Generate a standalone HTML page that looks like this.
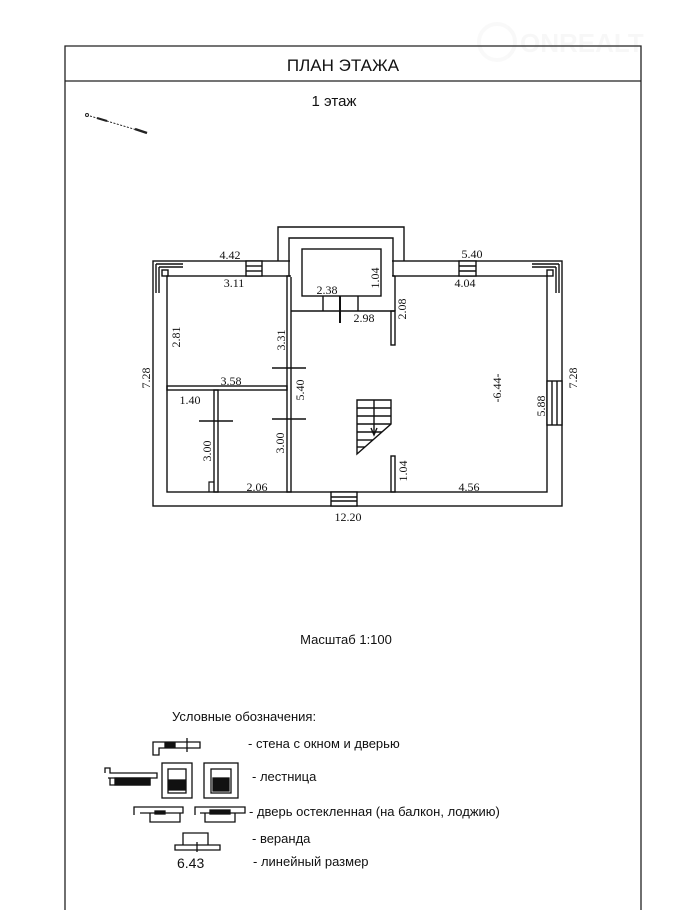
<!DOCTYPE html>
<html><head><meta charset="utf-8"><style>
html,body{margin:0;padding:0;background:#fff;}
svg{display:block;}
.s{font-family:"Liberation Serif",serif;font-size:12px;fill:#111;}
.a{font-family:"Liberation Sans",sans-serif;fill:#111;}
</style></head><body>
<svg width="693" height="910" viewBox="0 0 693 910" xmlns="http://www.w3.org/2000/svg">
<!-- watermark -->
<g opacity="0.06" fill="#888" font-family="Liberation Sans,sans-serif" font-weight="bold">
<circle cx="497" cy="42" r="18" fill="none" stroke="#999" stroke-width="4"/>
<text x="520" y="52" font-size="26">ONREALT</text>
</g>
<!-- frame -->
<g fill="none" stroke="#222" stroke-width="1.3">
<path d="M65 910 V46 H641 V910"/>
<line x1="65" y1="81" x2="641" y2="81"/>
</g>
<text class="a" x="343" y="71" font-size="17" text-anchor="middle">ПЛАН ЭТАЖА</text>
<text class="a" x="334" y="106" font-size="15" text-anchor="middle">1 этаж</text>
<!-- compass -->
<g stroke="#222">
<line x1="90" y1="116" x2="147" y2="133" stroke-dasharray="2,1.5" stroke-width="1"/>
<line x1="97" y1="118" x2="107" y2="121" stroke-width="2"/>
<line x1="135" y1="129" x2="147" y2="133" stroke-width="2.5"/>
<circle cx="87" cy="115" r="1.5" fill="none"/>
</g>
<!-- plan -->
<g fill="none" stroke="#111" stroke-width="1.4">
<rect x="153" y="261" width="409" height="245"/>
<rect x="167" y="276" width="380" height="216"/>
<path d="M156 264 H183 M156 264 V293 M159 267 H183 M159 267 V293"/>
<path d="M559 264 H532 M559 264 V293 M556 267 H532 M556 267 V293"/>
<rect x="162" y="270" width="6" height="6"/>
<rect x="547" y="270" width="6" height="6"/>
<path d="M278 261 V227 H404 V261"/>
<path d="M289 261 V238 H393 V261"/>
<rect x="246" y="261" width="16" height="15" fill="#fff"/>
<line x1="246" y1="266" x2="262" y2="266"/><line x1="246" y1="271" x2="262" y2="271"/>
<rect x="459" y="261" width="17" height="15" fill="#fff"/>
<line x1="459" y1="266" x2="476" y2="266"/><line x1="459" y1="271" x2="476" y2="271"/>
<rect x="547" y="381" width="15" height="44" fill="#fff"/>
<line x1="552" y1="381" x2="552" y2="425"/><line x1="557" y1="381" x2="557" y2="425"/>
<rect x="331" y="492" width="26" height="14" fill="#fff"/>
<line x1="331" y1="497" x2="357" y2="497"/><line x1="331" y1="501" x2="357" y2="501"/>
<rect x="287" y="276" width="4" height="216"/>
<rect x="167" y="386" width="120" height="4"/>
<rect x="214" y="390" width="4" height="102"/>
<line x1="291" y1="311" x2="395" y2="311"/>
<line x1="323" y1="296" x2="323" y2="311"/><line x1="358" y1="296" x2="358" y2="311"/>
<line x1="340" y1="288" x2="340" y2="323" stroke-width="2"/>
<path d="M395 276 V311"/>
<rect x="391" y="311" width="4" height="34"/>
<rect x="391" y="456" width="4" height="36"/>
<line x1="272" y1="368" x2="306" y2="368"/>
<line x1="272" y1="419" x2="306" y2="419"/>
<line x1="199" y1="421" x2="233" y2="421"/>
<path d="M209 492 V482 H214" stroke-width="1.2"/>
</g>
<rect x="290" y="260" width="102" height="17" fill="#fff"/>
<g fill="none" stroke="#111" stroke-width="1.4">
<line x1="289" y1="261" x2="289" y2="276"/>
<line x1="393" y1="261" x2="393" y2="276"/>
<rect x="302" y="249" width="79" height="47" fill="#fff"/>
<line x1="395" y1="276" x2="393" y2="276"/>
<line x1="291" y1="276" x2="289" y2="276"/>
<path d="M357 400 H391 V424 L357 454 Z"/>
<line x1="357" y1="408" x2="391" y2="408"/><line x1="357" y1="416" x2="391" y2="416"/>
<line x1="357" y1="424" x2="391" y2="424"/><line x1="357" y1="432" x2="382" y2="432"/>
<line x1="357" y1="440" x2="373" y2="440"/><line x1="357" y1="447" x2="365" y2="447"/>
<line x1="374" y1="400" x2="374" y2="433"/>
<path d="M371 428 L374 435 L377 428"/>
</g>
<g class="s" text-anchor="middle">
<text x="230" y="259">4.42</text>
<text x="234" y="287">3.11</text>
<text x="231" y="385">3.58</text>
<text x="190" y="404">1.40</text>
<text x="257" y="491">2.06</text>
<text x="348" y="521">12.20</text>
<text x="327" y="294">2.38</text>
<text x="364" y="322">2.98</text>
<text x="472" y="258">5.40</text>
<text x="465" y="287">4.04</text>
<text x="469" y="491">4.56</text>
<text transform="translate(180,337) rotate(-90)">2.81</text>
<text transform="translate(150,378) rotate(-90)">7.28</text>
<text transform="translate(285,340) rotate(-90)">3.31</text>
<text transform="translate(304,390) rotate(-90)">5.40</text>
<text transform="translate(211,451) rotate(-90)">3.00</text>
<text transform="translate(284,443) rotate(-90)">3.00</text>
<text transform="translate(379,278) rotate(-90)">1.04</text>
<text transform="translate(406,309) rotate(-90)">2.08</text>
<text transform="translate(501,388) rotate(-90)">-6.44-</text>
<text transform="translate(545,406) rotate(-90)">5.88</text>
<text transform="translate(577,378) rotate(-90)">7.28</text>
<text transform="translate(407,471) rotate(-90)">1.04</text>
</g>
<text class="a" x="346" y="644" font-size="13" text-anchor="middle">Масштаб 1:100</text>
<text class="a" x="172" y="721" font-size="13">Условные обозначения:</text>
<g class="a" font-size="13">
<text x="248" y="748">- стена с окном  и дверью</text>
<text x="252" y="781">- лестница</text>
<text x="249" y="816">- дверь остекленная (на балкон, лоджию)</text>
<text x="252" y="843">- веранда</text>
<text x="253" y="866">- линейный размер</text>
</g>
<g fill="none" stroke="#111" stroke-width="1.3">
<path d="M153 755 V742 H200 V748 H159 V755 Z"/>
<rect x="165" y="743" width="10" height="4" fill="#111"/>
<line x1="187" y1="738" x2="187" y2="752"/>
<path d="M105 773 V768 H110 V773 H157 V778 H110 V785 H150 V778 M108 778 H113"/>
<rect x="115" y="778" width="35" height="7" fill="#111"/>
<rect x="162" y="763" width="30" height="35"/>
<rect x="168" y="769" width="18" height="24"/>
<rect x="169" y="780" width="16" height="10" fill="#111"/>
<rect x="204" y="763" width="34" height="35"/>
<rect x="211" y="769" width="20" height="24"/>
<rect x="213" y="778" width="16" height="13" fill="#111"/>
<path d="M134 815 V807 H183 V813 H140 M150 813 V822 H180 V813"/>
<rect x="155" y="811" width="10" height="3" fill="#111"/>
<path d="M195 815 V807 H245 V813 H200 M205 813 V822 H235 V813"/>
<rect x="210" y="810" width="20" height="4" fill="#111"/>
<path d="M183 845 V833 H208 V845 M175 845 H220 V850 H175 Z"/>
<line x1="197" y1="842" x2="197" y2="852"/>
</g>
<text class="a" x="177" y="868" font-size="14">6.43</text>
</svg>
</body></html>
